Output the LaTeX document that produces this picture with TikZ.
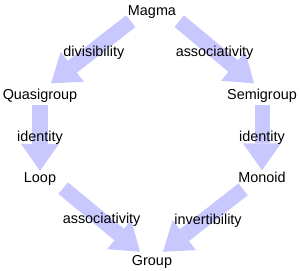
\documentclass[tikz,border=0pt]{standalone}
\usepackage{fontspec}
\setmainfont{Liberation Sans}
\usepackage{tikz}
\usetikzlibrary{arrows.meta, positioning}
\definecolor{arrowlav}{RGB}{200,200,255}

\begin{document}
\begin{tikzpicture}[x=1bp,y=1bp,
	every node/.style={font=\fontsize{14.4bp}{17bp}\selectfont, inner sep=3bp},
	obj/.style={anchor=base},
	bigarrow/.style={draw=arrowlav, line width=15bp,
		-{Triangle[length=27bp,width=38bp,line width=0pt,fill=arrowlav]}}]
	\useasboundingbox (0,0) rectangle (300,-271);
	% objects
	\node[obj] (magma) at (152,-15) {Magma};
	\node[obj] (quasi) at (40,-99) {Quasigroup};
	\node[obj] (semi) at (262,-99) {Semigroup};
	\node[obj] (loop) at (40,-182) {Loop};
	\node[obj] (monoid) at (262,-182) {Monoid};
	\node[obj] (group) at (152,-265) {Group};
	% arrows
	\draw[bigarrow] ([xshift=6bp]magma.south west) -- ([xshift=11bp,yshift=2bp]quasi.north)
		node[midway,xshift=3bp] (div) {divisibility};
	\draw[bigarrow] (magma.south east) -- ([xshift=-8bp,yshift=2bp]semi.north)
		node[midway,xshift=-2bp] (assocA) {associativity};
	\draw[bigarrow] (quasi.south) -- ([yshift=-2bp]loop.north)
		node[midway] (idA) {identity};
	\draw[bigarrow] (semi.south) -- ([yshift=-2bp]monoid.north)
		node[midway] (idB) {identity};
	\draw[bigarrow] ([xshift=4bp]loop.south east) -- ([xshift=-12bp]group.north)
		node[midway] (assocB) {associativity};
	\draw[bigarrow] ([xshift=8bp,yshift=-4bp]monoid.south west) -- ([xshift=11bp]group.north)
		node[midway,xshift=5bp] (inv) {invertibility};
\end{tikzpicture}
\end{document}
